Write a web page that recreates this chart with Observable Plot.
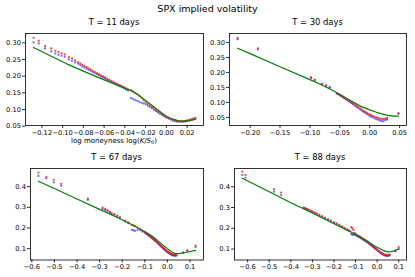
<!DOCTYPE html>
<html><head><meta charset="utf-8">
<script src="https://cdn.jsdelivr.net/npm/d3@7"></script>
<script src="https://cdn.jsdelivr.net/npm/@observablehq/plot@0.6"></script>
<style>
body{margin:0;background:#fff;font-family:"DejaVu Sans",sans-serif;color:#000;}
#root{position:relative;width:415px;height:277px;overflow:hidden;background:#fff;}
.t{position:absolute;white-space:nowrap;transform:translate(-50%,-50%);line-height:1;}
.t sub{font-size:0.7em;vertical-align:-0.25em;line-height:0;}
</style></head>
<body><div id="root"></div>
<script>
// ---------- T = 11 days ----------
const k1 = [-0.128,-0.123,-0.117,-0.111,-0.107,-0.104,-0.101,-0.098,-0.094,-0.091,-0.088,-0.085,-0.083,-0.081,-0.079,-0.077,-0.075,-0.073,-0.071,-0.069,-0.067,-0.065,-0.063,-0.061,-0.059,-0.057,-0.055,-0.053,-0.051,-0.049,-0.047,-0.045,-0.043,-0.041,-0.039,-0.037,-0.034,-0.032,-0.030,-0.028,-0.026,-0.024,-0.022,-0.020,-0.018,-0.016,-0.014,-0.012,-0.010,-0.008,-0.006,-0.004,-0.002,0.000,0.002,0.004,0.006,0.008,0.010,0.012,0.014,0.016,0.018,0.020,0.022,0.024,0.026,0.028];
const ask1 = [0.315,0.306,0.290,0.283,0.276,0.272,0.268,0.265,0.257,0.253,0.247,0.242,0.238,0.234,0.231,0.227,0.223,0.220,0.216,0.213,0.209,0.206,0.202,0.199,0.196,0.192,0.189,0.186,0.183,0.179,0.176,0.173,0.170,0.167,0.163,0.160,0.158,0.154,0.150,0.146,0.141,0.135,0.128,0.122,0.117,0.112,0.107,0.103,0.098,0.094,0.090,0.086,0.082,0.078,0.075,0.072,0.070,0.068,0.066,0.065,0.065,0.065,0.066,0.067,0.069,0.071,0.073,0.075];
const bid1 = [0.301,0.298,0.283,0.274,0.268,0.264,0.261,0.258,0.250,0.246,0.241,0.237,0.233,0.229,0.226,0.222,0.219,0.216,0.212,0.209,0.206,0.203,0.199,0.196,0.193,0.189,0.186,0.183,0.180,0.176,0.173,0.170,0.167,0.164,0.160,0.157,0.134,0.131,0.128,0.126,0.123,0.120,0.118,0.116,0.112,0.108,0.104,0.099,0.095,0.091,0.087,0.083,0.079,0.076,0.073,0.070,0.067,0.065,0.064,0.063,0.063,0.063,0.064,0.065,0.066,0.068,0.070,0.072];
const fitK1 = [-0.128,-0.112,-0.096,-0.080,-0.064,-0.048,-0.033,-0.026,-0.020,-0.015,-0.010,-0.005,0.000,0.006,0.012,0.018,0.023,0.028];
const fitV1 = [0.286,0.261,0.237,0.215,0.194,0.174,0.155,0.141,0.127,0.115,0.103,0.091,0.080,0.071,0.066,0.065,0.067,0.071];
const xTicks1 = [-0.12,-0.10,-0.08,-0.06,-0.04,-0.02,0.00,0.02];
const yTicks1 = [0.05,0.10,0.15,0.20,0.25,0.30];

// ---------- T = 30 days ----------
const k2 = [-0.221,-0.187,-0.098,-0.092,-0.080,-0.073,-0.067,-0.055,-0.052,-0.049,-0.046,-0.043,-0.040,-0.037,-0.034,-0.031,-0.028,-0.025,-0.022,-0.019,-0.016,-0.013,-0.010,-0.007,-0.004,-0.001,0.002,0.005,0.008,0.011,0.014,0.017,0.020,0.023,0.026,0.029,0.048];
const ask2 = [0.315,0.280,0.184,0.176,0.162,0.157,0.151,0.131,0.128,0.124,0.121,0.117,0.113,0.109,0.105,0.101,0.097,0.093,0.089,0.085,0.080,0.076,0.072,0.068,0.064,0.061,0.058,0.055,0.052,0.050,0.048,0.046,0.045,0.045,0.046,0.048,0.064];
const bid2 = [0.311,0.277,0.181,0.173,0.160,0.155,0.149,0.129,0.126,0.122,0.118,0.114,0.110,0.106,0.102,0.098,0.094,0.089,0.085,0.081,0.076,0.072,0.068,0.064,0.060,0.056,0.053,0.050,0.047,0.044,0.042,0.040,0.038,0.037,0.041,0.043,0.062];
const fitK2 = [-0.221,-0.200,-0.150,-0.100,-0.080,-0.060,-0.044,-0.030,-0.015,0.000,0.010,0.020,0.030,0.040,0.048];
const fitV2 = [0.281,0.263,0.219,0.176,0.158,0.138,0.120,0.104,0.087,0.075,0.068,0.062,0.057,0.054,0.054];
const xTicks2 = [-0.20,-0.15,-0.10,-0.05,0.00,0.05];
const yTicks2 = [0.05,0.10,0.15,0.20,0.25,0.30];

// ---------- T = 67 days ----------
const k3 = [-0.571,-0.536,-0.503,-0.470,-0.352,-0.287,-0.275,-0.265,-0.255,-0.247,-0.235,-0.222,-0.210,-0.187,-0.173,-0.157,-0.150,-0.143,-0.132,-0.120,-0.110,-0.100,-0.095,-0.090,-0.085,-0.080,-0.075,-0.070,-0.065,-0.060,-0.055,-0.050,-0.045,-0.040,-0.035,-0.030,-0.025,-0.020,-0.015,-0.010,-0.005,0.000,0.005,0.010,0.015,0.020,0.025,0.030,0.035,0.040,0.070,0.088,0.125];
const ask3 = [0.468,0.447,0.433,0.414,0.342,0.298,0.292,0.285,0.278,0.272,0.267,0.260,0.253,0.235,0.227,0.215,0.212,0.209,0.202,0.194,0.186,0.181,0.177,0.173,0.169,0.165,0.160,0.156,0.151,0.147,0.142,0.137,0.132,0.127,0.122,0.116,0.111,0.106,0.101,0.096,0.091,0.087,0.083,0.079,0.076,0.073,0.071,0.069,0.069,0.070,0.082,0.092,0.115];
const bid3 = [0.452,0.440,0.421,0.404,0.336,0.292,0.287,0.280,0.274,0.268,0.263,0.256,0.249,0.231,0.223,0.190,0.189,0.186,0.190,0.190,0.182,0.177,0.173,0.169,0.165,0.161,0.156,0.152,0.147,0.143,0.138,0.133,0.128,0.123,0.118,0.112,0.107,0.102,0.097,0.092,0.087,0.083,0.079,0.075,0.072,0.069,0.067,0.066,0.065,0.066,0.079,0.089,0.108];
const fitK3 = [-0.571,-0.500,-0.400,-0.300,-0.200,-0.150,-0.100,-0.068,-0.050,-0.025,0.000,0.018,0.032,0.050,0.075,0.100,0.125];
const fitV3 = [0.426,0.391,0.340,0.290,0.240,0.212,0.182,0.161,0.146,0.122,0.100,0.085,0.077,0.076,0.080,0.086,0.092];
const xTicks3 = [-0.6,-0.5,-0.4,-0.3,-0.2,-0.1,0.0,0.1];
const yTicks3 = [0.1,0.2,0.3,0.4];

// ---------- T = 88 days ----------
const k4 = [-0.625,-0.610,-0.478,-0.445,-0.340,-0.333,-0.325,-0.318,-0.308,-0.300,-0.290,-0.280,-0.268,-0.255,-0.242,-0.228,-0.215,-0.200,-0.188,-0.175,-0.162,-0.150,-0.138,-0.128,-0.120,-0.115,-0.110,-0.104,-0.098,-0.092,-0.086,-0.080,-0.074,-0.068,-0.062,-0.056,-0.050,-0.044,-0.038,-0.032,-0.026,-0.020,-0.014,-0.008,-0.002,0.004,0.010,0.016,0.022,0.028,0.034,0.040,0.046,0.052,0.058,0.085,0.100];
const ask4 = [0.473,0.457,0.388,0.372,0.300,0.297,0.293,0.290,0.285,0.281,0.276,0.271,0.265,0.258,0.251,0.244,0.237,0.229,0.223,0.216,0.209,0.202,0.195,0.189,0.205,0.200,0.192,0.178,0.170,0.166,0.162,0.159,0.155,0.151,0.147,0.143,0.139,0.134,0.129,0.124,0.119,0.114,0.109,0.104,0.099,0.094,0.089,0.084,0.080,0.076,0.073,0.071,0.070,0.071,0.073,0.092,0.109];
const bid4 = [0.457,0.444,0.376,0.360,0.296,0.293,0.289,0.286,0.281,0.277,0.272,0.267,0.261,0.254,0.247,0.240,0.233,0.225,0.219,0.212,0.205,0.198,0.191,0.185,0.172,0.170,0.168,0.170,0.166,0.162,0.158,0.155,0.151,0.147,0.143,0.139,0.135,0.130,0.125,0.120,0.115,0.110,0.105,0.100,0.095,0.090,0.085,0.080,0.076,0.072,0.069,0.067,0.066,0.067,0.069,0.089,0.100];
const fitK4 = [-0.625,-0.500,-0.400,-0.300,-0.200,-0.148,-0.100,-0.069,-0.040,-0.015,0.009,0.030,0.048,0.065,0.080,0.100];
const fitV4 = [0.441,0.376,0.323,0.274,0.222,0.196,0.171,0.153,0.134,0.117,0.104,0.092,0.086,0.087,0.091,0.100];
const xTicks4 = [-0.6,-0.5,-0.4,-0.3,-0.2,-0.1,0.0,0.1];
const yTicks4 = [0.1,0.2,0.3,0.4];

const titles = ["T = 11 days","T = 30 days","T = 67 days","T = 88 days"];
const mainTitle = "SPX implied volatility";

const root = document.getElementById("root");
function addText(html, x, y, size){
  const d = document.createElement("div");
  d.className = "t"; d.innerHTML = html;
  d.style.left = x + "px"; d.style.top = y + "px"; d.style.fontSize = size + "px";
  root.appendChild(d);
}

function panel(o){
  const mL = 30, mR = 5, mT = 5, mB = 14;
  const [fx0, fx1, fy0, fy1] = o.frame;
  const svg = Plot.plot({
    width: fx1 - fx0 + mL + mR,
    height: fy1 - fy0 + mT + mB,
    marginLeft: mL, marginRight: mR, marginTop: mT, marginBottom: mB,
    style: {fontFamily: '"DejaVu Sans", sans-serif', fontSize: "6.7px", background: "transparent", overflow: "visible", color: "#000"},
    x: {domain: o.xd},
    y: {domain: o.yd},
    marks: [
      Plot.axisX({ticks: o.xt, tickFormat: o.xf, tickSize: 3, tickPadding: 1.5, label: null, strokeWidth: 0.8}),
      Plot.axisY({ticks: o.yt, tickFormat: o.yf, tickSize: 3, tickPadding: 1.5, label: null, strokeWidth: 0.8}),
      Plot.dot(o.k, {x: o.k, y: o.bid, r: 1.15, fill: "#0000ff", fillOpacity: 0.55}),
      Plot.dot(o.k, {x: o.k, y: o.ask, r: 1.15, fill: "#ff0000", fillOpacity: 0.7}),
      Plot.line(o.fk, {x: o.fk, y: o.fv, stroke: "#008000", strokeWidth: 1.2}),
      Plot.frame({stroke: "#000", strokeWidth: 0.8})
    ]
  });
  svg.style.position = "absolute";
  svg.style.left = (fx0 - mL) + "px";
  svg.style.top = (fy0 - mT) + "px";
  root.appendChild(svg);
  addText(o.title, (fx0 + fx1) / 2, fy0 - 11, 8.4);
}

const f2 = d3.format(".2f"), f1 = d3.format(".1f");
panel({k: k1, ask: ask1, bid: bid1, fk: fitK1, fv: fitV1, xt: xTicks1, yt: yTicks1, xf: f2, yf: f2,
  xd: [-0.1358, 0.0358], yd: [0.052, 0.328], frame: [25, 203, 33, 125], title: titles[0]});
panel({k: k2, ask: ask2, bid: bid2, fk: fitK2, fv: fitV2, xt: xTicks2, yt: yTicks2, xf: f2, yf: f2,
  xd: [-0.2345, 0.0615], yd: [0.023, 0.330], frame: [229, 406, 33, 125], title: titles[1]});
panel({k: k3, ask: ask3, bid: bid3, fk: fitK3, fv: fitV3, xt: xTicks3, yt: yTicks3, xf: f1, yf: f1,
  xd: [-0.606, 0.160], yd: [0.045, 0.488], frame: [30, 203, 167.5, 259], title: titles[2]});
panel({k: k4, ask: ask4, bid: bid4, fk: fitK4, fv: fitV4, xt: xTicks4, yt: yTicks4, xf: f1, yf: f1,
  xd: [-0.661, 0.136], yd: [0.047, 0.488], frame: [234, 406, 167.5, 259], title: titles[3]});

addText(mainTitle, 207.5, 9, 9.5);
addText('log moneyness log(<i>K</i>/<i>S</i><sub>0</sub>)', 114, 141, 7);
</script>
</body></html>
